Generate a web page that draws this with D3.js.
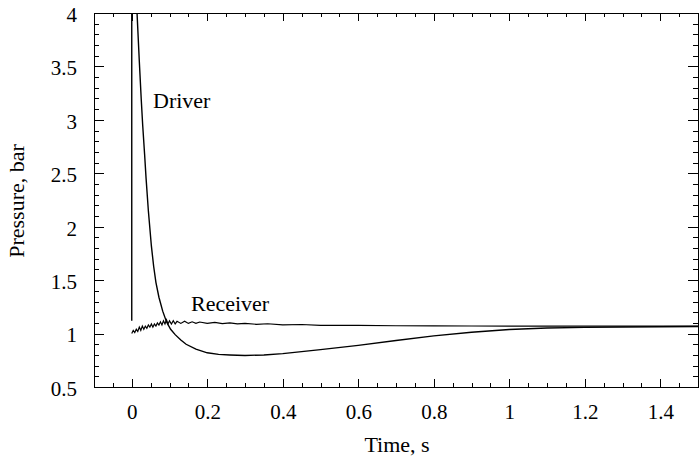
<html>
<head>
<title>Pressure traces</title>
<script src="https://d3js.org/d3.v7.min.js"></script>
<style>
body { margin: 0; background: #fff; }
.axis path, .axis line { fill: none; stroke: #000; shape-rendering: crispEdges; }
.axis text { font-family: "Liberation Serif", serif; font-size: 21px; fill: #000; }
.axis-label { font-family: "Liberation Serif", serif; font-size: 22px; fill: #000; }
</style>
</head>
<body>
<div id="vis_container"></div>
<script>
// driver trace (time s, pressure bar)
var driverT = [0, 0, 0.008, 0.014, 0.02, 0.025, 0.029, 0.034, 0.038, 0.044, 0.052, 0.058, 0.064, 0.072, 0.082, 0.092, 0.103, 0.115, 0.13, 0.144, 0.17, 0.2, 0.23, 0.26, 0.3, 0.35, 0.4, 0.5, 0.6, 0.7, 0.8, 0.9, 1.0, 1.1, 1.2, 1.3, 1.4, 1.5];
var driverP = [1.12, 6, 6, 4.0, 3.55, 3.2, 2.95, 2.68, 2.45, 2.15, 1.82, 1.63, 1.48, 1.34, 1.21, 1.11, 1.04, 0.99, 0.94, 0.9, 0.855, 0.82, 0.805, 0.8, 0.795, 0.8, 0.812, 0.85, 0.89, 0.935, 0.978, 1.013, 1.038, 1.052, 1.058, 1.062, 1.064, 1.066];

// receiver trace
var receiverT = [0, 0.004, 0.008, 0.012, 0.016, 0.02, 0.024, 0.028, 0.032, 0.036, 0.04, 0.044, 0.048, 0.052, 0.056, 0.06, 0.064, 0.068, 0.072, 0.076, 0.08, 0.084, 0.088, 0.092, 0.096, 0.1, 0.105, 0.11, 0.115, 0.12, 0.13, 0.14, 0.15, 0.16, 0.17, 0.18, 0.2, 0.22, 0.24, 0.26, 0.28, 0.3, 0.33, 0.36, 0.4, 0.45, 0.5, 0.6, 0.7, 0.8, 0.9, 1.0, 1.2, 1.5];
var receiverP = [1.0, 1.03, 1.01, 1.04, 1.02, 1.06, 1.03, 1.07, 1.04, 1.07, 1.05, 1.08, 1.06, 1.09, 1.06, 1.09, 1.07, 1.1, 1.08, 1.11, 1.08, 1.12, 1.09, 1.13, 1.09, 1.12, 1.09, 1.12, 1.09, 1.115, 1.095, 1.115, 1.095, 1.11, 1.095, 1.108, 1.096, 1.104, 1.093, 1.1, 1.09, 1.096, 1.087, 1.092, 1.082, 1.085, 1.077, 1.076, 1.073, 1.072, 1.071, 1.07, 1.07, 1.07];

var xMajor = [0, 0.2, 0.4, 0.6, 0.8, 1, 1.2, 1.4];
var yMajor = [0.5, 1, 1.5, 2, 2.5, 3, 3.5, 4];

var width = 700, height = 460;
var plotLeft = 94, plotTop = 13, plotRight = 698, plotBottom = 387;

var svg = d3.select("#vis_container").append("svg")
    .attr("width", width)
    .attr("height", height);

var x = d3.scaleLinear().domain([-0.1, 1.5]).range([plotLeft, plotRight]);
var y = d3.scaleLinear().domain([0.5, 4]).range([plotBottom, plotTop]);

var xMinor = d3.range(-0.05, 1.5, 0.05).filter(function(v) { return Math.abs(v * 5 - Math.round(v * 5)) > 1e-6; });
var yMinor = d3.range(0.6, 4, 0.1).filter(function(v) { return Math.abs(v * 2 - Math.round(v * 2)) > 1e-6; });

function fmt(d) { return d3.format("~g")(d); }

// minor ticks
svg.append("g").attr("class", "axis").attr("transform", "translate(0," + plotBottom + ")")
    .call(d3.axisBottom(x).tickValues(xMinor).tickSize(-4).tickSizeOuter(0).tickFormat(""));
svg.append("g").attr("class", "axis").attr("transform", "translate(0," + plotTop + ")")
    .call(d3.axisTop(x).tickValues(xMinor).tickSize(-4).tickSizeOuter(0).tickFormat(""));
svg.append("g").attr("class", "axis").attr("transform", "translate(" + plotLeft + ",0)")
    .call(d3.axisLeft(y).tickValues(yMinor).tickSize(-5).tickSizeOuter(0).tickFormat(""));
svg.append("g").attr("class", "axis").attr("transform", "translate(" + plotRight + ",0)")
    .call(d3.axisRight(y).tickValues(yMinor).tickSize(-5).tickSizeOuter(0).tickFormat(""));

// major ticks and labels
svg.append("g").attr("class", "axis").attr("transform", "translate(0," + plotBottom + ")")
    .call(d3.axisBottom(x).tickValues(xMajor).tickSize(-8).tickSizeOuter(0).tickPadding(17).tickFormat(fmt));
svg.append("g").attr("class", "axis").attr("transform", "translate(0," + plotTop + ")")
    .call(d3.axisTop(x).tickValues(xMajor).tickSize(-8).tickSizeOuter(0).tickFormat(""));
svg.append("g").attr("class", "axis").attr("transform", "translate(" + plotLeft + ",0)")
    .call(d3.axisLeft(y).tickValues(yMajor).tickSize(-10).tickSizeOuter(0).tickPadding(17).tickFormat(fmt))
    .selectAll("text").attr("dy", "0.4em");
svg.append("g").attr("class", "axis").attr("transform", "translate(" + plotRight + ",0)")
    .call(d3.axisRight(y).tickValues(yMajor).tickSize(-10).tickSizeOuter(0).tickFormat(""));

svg.selectAll(".axis path").style("stroke-width", 1.5);

// data lines, clipped to the frame
svg.append("clipPath").attr("id", "plot")
    .append("rect").attr("x", plotLeft).attr("y", plotTop)
    .attr("width", plotRight - plotLeft).attr("height", plotBottom - plotTop);

var line = d3.line()
    .x(function(d) { return x(d[0]); })
    .y(function(d) { return y(d[1]); });

var driver = driverT.map(function(t, i) { return [t, driverP[i]]; });
var receiver = receiverT.map(function(t, i) { return [t, receiverP[i]]; });

var lines = svg.append("g").attr("clip-path", "url(#plot)");
lines.append("path").datum(receiver)
    .attr("d", line).attr("fill", "none").attr("stroke", "#000").attr("stroke-width", 1.2);
lines.append("path").datum(driver)
    .attr("d", line).attr("fill", "none").attr("stroke", "#000").attr("stroke-width", 1.4);

// labels
svg.append("text").attr("class", "axis-label").attr("x", 153).attr("y", 108).text("Driver");
svg.append("text").attr("class", "axis-label").attr("x", 191).attr("y", 311).text("Receiver");

svg.append("text").attr("class", "axis-label")
    .attr("x", 397).attr("y", 452)
    .style("text-anchor", "middle").text("Time, s");

svg.append("text").attr("class", "axis-label")
    .attr("transform", "translate(24," + 201 + ") rotate(-90)")
    .style("text-anchor", "middle").text("Pressure, bar");
</script>
</body>
</html>
